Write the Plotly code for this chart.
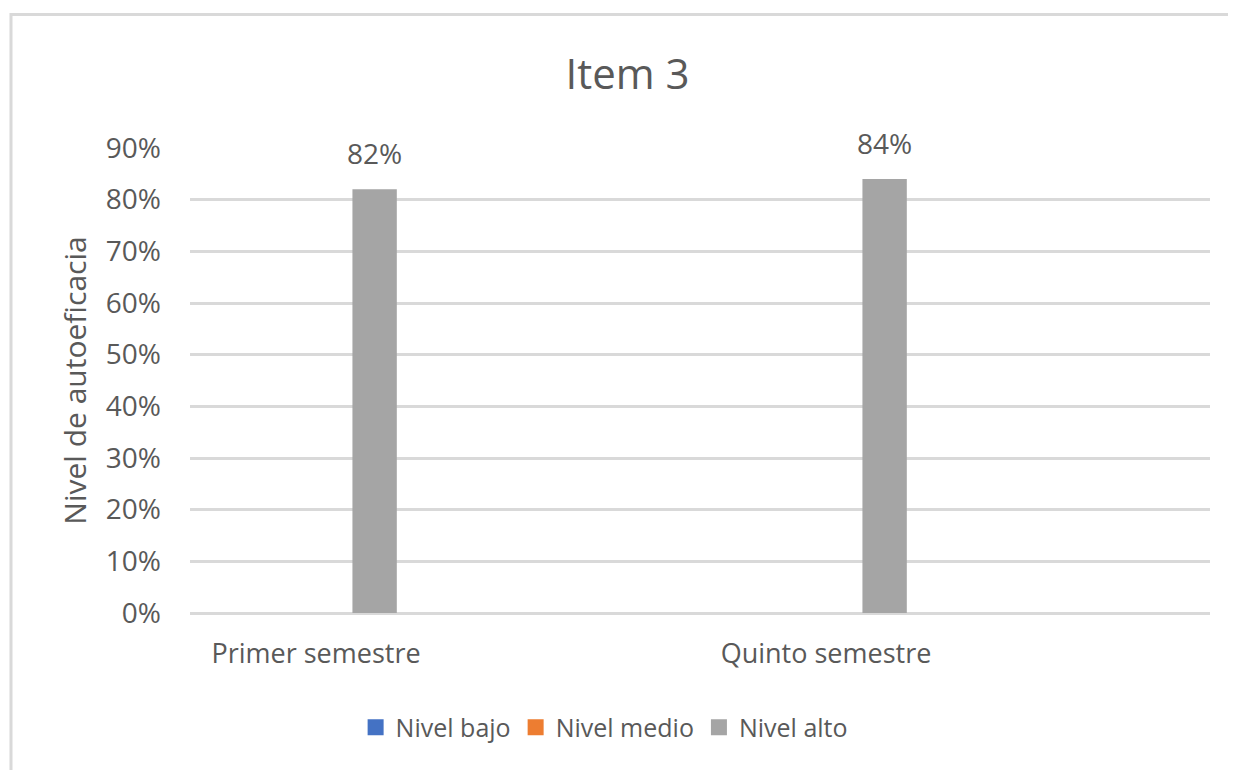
import plotly.graph_objects as go

categories = ["Primer semestre", "Quinto semestre"]
nivel_bajo = [0.0, 0.0]
nivel_medio = [0.0, 0.0]
nivel_alto = [0.82, 0.84]
y_ticks = [0, 0.1, 0.2, 0.3, 0.4, 0.5, 0.6, 0.7, 0.8, 0.9]

TXT = "#595959"
GRID = "#D9D9D9"
FONT = "Open Sans"

BAR_W = 0.087
BAR_OFF = -0.138 - BAR_W / 2

# page body has an 8px margin: figure is drawn from (8, 8)
W, H = 1228, 762

fig = go.Figure()
series = [("Nivel bajo", nivel_bajo, "#4472C4"),
          ("Nivel medio", nivel_medio, "#ED7D31"),
          ("Nivel alto", nivel_alto, "#A5A5A5")]
for name, vals, col in series:
    fig.add_trace(go.Bar(x=categories, y=vals, name=name, marker_color=col,
                         marker_line_width=0, width=BAR_W, offset=BAR_OFF,
                         legendgroup=name, showlegend=False))
# legend proxies (larger square swatches, no drawn marks)
for name, vals, col in series:
    fig.add_trace(go.Scatter(x=[None], y=[None], mode="markers", name=name,
                             legendgroup=name,
                             marker=dict(symbol="square", size=16, color=col)))

for i, v in enumerate(nivel_alto):
    fig.add_annotation(x=i + BAR_OFF + BAR_W / 2, y=v, xref="x", yref="y",
                       text=f"{round(v*100)}%", showarrow=False,
                       yanchor="middle", yshift=36,
                       font=dict(family=FONT, size=28, color=TXT))

# chart frame (cropped at right/bottom like the reference)
fig.add_shape(type="rect", xref="paper", yref="paper",
              x0=-0.1755, x1=1.06, y0=-0.4, y1=1.287,
              line=dict(color=GRID, width=3), fillcolor="rgba(0,0,0,0)", layer="below")

fig.update_layout(
    width=W, height=H,
    margin=dict(l=182, r=26, t=140, b=157),
    paper_bgcolor="white", plot_bgcolor="white",
    barmode="overlay",
    font=dict(family=FONT, color=TXT),
    title=dict(text="Item 3", x=619.5 / W, xref="container", xanchor="center",
               y=1 - 66 / H, yref="container", yanchor="middle",
               font=dict(family=FONT, size=42, color=TXT)),
    showlegend=True,
    legend=dict(orientation="h", x=0.406, xanchor="center", y=-0.246, yanchor="middle",
                font=dict(family=FONT, size=25, color=TXT), traceorder="normal",
                itemwidth=30, tracegroupgap=0),
    xaxis=dict(type="category", range=[-0.5, 1.5], showgrid=False, showline=False,
               ticks="", tickfont=dict(family=FONT, size=27, color=TXT),
               ticklabelshift=-129, ticklabelstandoff=22),
    yaxis=dict(range=[0, 0.9], tickvals=y_ticks, tickformat=".0%",
               showgrid=True, gridcolor=GRID, gridwidth=2.5,
               zeroline=True, zerolinecolor=GRID, zerolinewidth=2.5,
               showline=False, ticks="", ticklabelstandoff=28,
               tickfont=dict(family=FONT, size=28, color=TXT),
               title=dict(text="Nivel de autoeficacia", standoff=10,
                          font=dict(family=FONT, size=30, color=TXT))),
)

fig.write_html("out.html")
